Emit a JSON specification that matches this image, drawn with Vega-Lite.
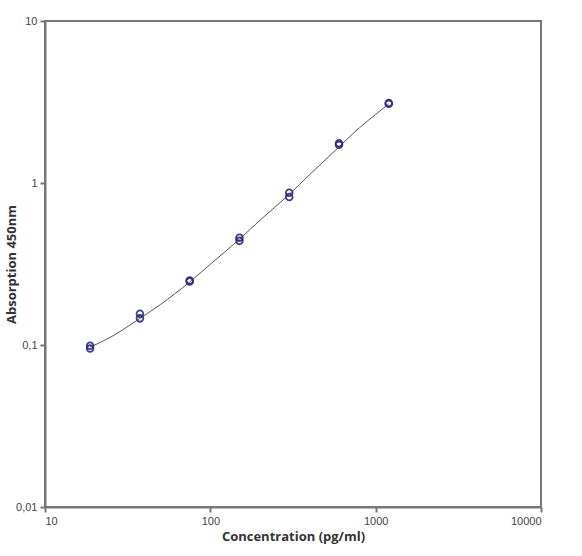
{
  "$schema": "https://vega.github.io/schema/vega-lite/v6.json",
  "width": 496,
  "height": 486,
  "autosize": {"type": "none"},
  "padding": {"left": 45, "top": 21, "right": 41, "bottom": 49},
  "background": "white",
  "view": {"stroke": "#777777", "strokeWidth": 2},
  "datasets": {
    "points": [
      {"conc": 18.75, "od": 0.095},
      {"conc": 18.75, "od": 0.099},
      {"conc": 37.5, "od": 0.146},
      {"conc": 37.5, "od": 0.156},
      {"conc": 75, "od": 0.247},
      {"conc": 75, "od": 0.25},
      {"conc": 150, "od": 0.44},
      {"conc": 150, "od": 0.46},
      {"conc": 300, "od": 0.82},
      {"conc": 300, "od": 0.87},
      {"conc": 600, "od": 1.72},
      {"conc": 600, "od": 1.76},
      {"conc": 1200, "od": 3.08},
      {"conc": 1200, "od": 3.12}
    ],
    "fit": [
      {"conc": 18.75, "od": 0.097},
      {"conc": 25, "od": 0.112},
      {"conc": 37.5, "od": 0.146},
      {"conc": 50, "od": 0.178},
      {"conc": 75, "od": 0.245},
      {"conc": 100, "od": 0.315},
      {"conc": 150, "od": 0.45},
      {"conc": 200, "od": 0.59},
      {"conc": 300, "od": 0.85},
      {"conc": 400, "od": 1.13},
      {"conc": 500, "od": 1.4},
      {"conc": 600, "od": 1.67},
      {"conc": 800, "od": 2.2},
      {"conc": 1000, "od": 2.65},
      {"conc": 1200, "od": 3.08}
    ]
  },
  "encoding": {
    "x": {
      "field": "conc",
      "type": "quantitative",
      "scale": {"type": "log", "domain": [10, 10000], "nice": false},
      "axis": {
        "title": "Concentration (pg/ml)",
        "values": [10, 100, 1000, 10000],
        "labelExpr": "replace(format(datum.value, '~g'), '.', ',')",
        "grid": false,
        "domainColor": "#777777",
        "domainWidth": 2,
        "tickColor": "#777777",
        "tickWidth": 2,
        "tickSize": 5,
        "labelFont": "Liberation Sans",
        "labelFontSize": 11,
        "labelColor": "#444444",
        "labelPadding": 3,
        "titleFont": "Open Sans",
        "titleFontSize": 13,
        "titleFontWeight": "bold",
        "titleColor": "#333333",
        "titlePadding": 4
      }
    },
    "y": {
      "field": "od",
      "type": "quantitative",
      "scale": {"type": "log", "domain": [0.01, 10], "nice": false},
      "axis": {
        "title": "Absorption 450nm",
        "values": [0.01, 0.1, 1, 10],
        "labelExpr": "replace(format(datum.value, '~g'), '.', ',')",
        "grid": false,
        "domainColor": "#777777",
        "domainWidth": 2,
        "tickColor": "#777777",
        "tickWidth": 2,
        "tickSize": 5,
        "labelFont": "Liberation Sans",
        "labelFontSize": 11,
        "labelColor": "#444444",
        "labelPadding": 3,
        "titleFont": "Open Sans",
        "titleFontSize": 13,
        "titleFontWeight": "bold",
        "titleColor": "#333333",
        "titleX": -27,
        "titleY": 243
      }
    }
  },
  "layer": [
    {
      "data": {"name": "fit"},
      "mark": {"type": "line", "color": "#555555", "strokeWidth": 1, "interpolate": "monotone"}
    },
    {
      "data": {"name": "points"},
      "mark": {"type": "point", "shape": "circle", "filled": false, "color": "#2b2b7a", "size": 45, "strokeWidth": 1.8, "opacity": 0.9}
    }
  ]
}
